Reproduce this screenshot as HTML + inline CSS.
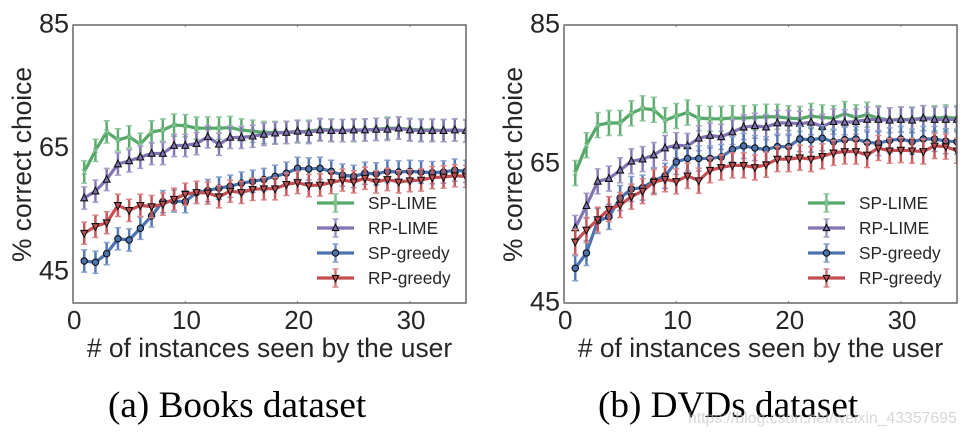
<!DOCTYPE html>
<html>
<head>
<meta charset="utf-8">
<title>Books and DVDs dataset charts</title>
<style>
html,body{margin:0;padding:0;background:#fff;width:968px;height:436px;overflow:hidden}
svg{display:block;filter:blur(0.35px)}
.sans{font-family:"Liberation Sans",sans-serif;fill:#262626}
.serif{font-family:"Liberation Serif",serif;fill:#000}
</style>
</head>
<body>
<svg id="figure" xmlns="http://www.w3.org/2000/svg" width="968" height="436" viewBox="0 0 968 436"></svg>
<script>
var xValues = [1,2,3,4,5,6,7,8,9,10,11,12,13,14,15,16,17,18,19,20,21,22,23,24,25,26,27,28,29,30,31,32,33,34,35];
var seriesNames = ["SP-LIME","RP-LIME","SP-greedy","RP-greedy"];

var booksSpLime = [61.2,64.7,67.7,66.4,66.9,65.7,67.7,68,68.8,68.7,68.3,68.3,68.3,68.4,68,67.8,67.6,67.6,67.6,67.7,67.8,68.1,68,67.9,67.9,68,68.1,68.3,68.3,68.1,68,68,67.9,68,67.8];
var booksRpLime = [57,58.1,60,62.5,63,63.6,64.2,64.2,65.5,65.5,65.8,66.9,65.7,66.8,66.8,67,67.3,67.5,67.6,67.8,67.6,68,67.9,67.9,68,68,68.1,68.1,68.3,68,67.9,67.9,67.9,68,67.9];
var booksSpGreedy = [46.8,46.6,48,50.4,50.2,52.1,54.1,56.4,56.5,56.4,57.9,58.2,58.6,58.9,59.4,59.7,60,60.5,61,61.8,61.7,61.8,61.3,60.7,60.5,61,60.9,61.3,61.2,61.3,61.2,61.1,61.2,61.5,61.3];
var booksRpGreedy = [51.3,52.4,53,55.8,55,55.8,55.6,56,56.8,57.6,57.9,57.8,57.2,58.1,57.9,58.4,58.5,58.5,59.2,59.5,59,59.1,59.5,59.9,59.6,60.2,59.6,60,59.6,59.8,59.9,60.3,60.4,60.6,60.5];

var dvdsSpLime = [63.7,67.7,70.6,70.9,70.9,72.3,73,72.8,71.3,71.9,72.4,71.6,71.5,71.5,71.6,71.6,71.7,71.8,71.8,71.6,71.5,71.9,71.7,71.6,72.2,71.7,72.1,71.6,71.3,71.4,71.4,71.6,71.6,71.7,71.6];
var dvdsRpLime = [55.8,59,62.5,62.9,64.1,65.4,65.7,66.3,67.3,67.7,67.6,68.7,69.1,68.9,69.6,70.3,70.5,70.3,70.9,70.9,70.8,71,70.4,71.1,71,71.1,71.4,71.4,71.3,71.4,71.3,71.6,71.4,71.4,71.4];
var dvdsSpGreedy = [50,52.2,56.8,57.4,60.1,61.4,61.6,62.6,63.3,65.3,65.8,65.8,65.8,66,67.1,67.6,67.3,67.1,67.5,67.5,68.6,68.5,68.7,68.2,68.5,68.6,68.1,68,68.4,68.6,68.2,68.6,68.6,68.3,68.2];
var dvdsRpGreedy = [53.8,55.5,57,58.5,59.1,60.3,61.1,62.4,62.8,62.5,63.3,62.6,64.1,64.5,64.8,64.8,64.5,64.9,65.7,65.7,65.9,65.7,66.1,66.6,66.8,66.8,66.3,67.3,66.9,67,66.9,66.8,67.6,67.5,66.9];

var booksErr = [1.8,1.8,1.8,1.8];
var dvdsErr = [1.8,1.8,1.8,1.8];
var xTicks = [0,10,20,30];
var booksYTicks = [45,65,85];
var dvdsYTicks = [45,65,85];

var NS = "http://www.w3.org/2000/svg";
var fig = document.getElementById("figure");
var seriesColors = ["#55A868","#8172B2","#4C72B0","#C44E52"];
var capColors = ["#8cc79c","#a79cca","#86a0cc","#d98689"];

function mk(tag, attrs, parent, txt){
  var e = document.createElementNS(NS, tag);
  for (var k in attrs) e.setAttribute(k, attrs[k]);
  if (txt !== undefined) e.textContent = txt;
  (parent || fig).appendChild(e);
  return e;
}

function drawMarker(g, kind, cx, cy, color, r){
  var m;
  if (kind === 0) {
    m = mk("path", {d:"M"+(cx-r)+" "+(cy-r)+"L"+(cx+r)+" "+(cy+r)+"M"+(cx+r)+" "+(cy-r)+"L"+(cx-r)+" "+(cy+r), stroke:"#8fcb9f", "stroke-width":1, fill:"none"}, g);
  } else if (kind === 1) {
    m = mk("path", {d:"M"+cx+" "+(cy-r-0.6)+"L"+(cx+r)+" "+(cy+r-0.6)+"L"+(cx-r)+" "+(cy+r-0.6)+"Z", fill:color, stroke:"#111", "stroke-width":1.1}, g);
  } else if (kind === 2) {
    m = mk("circle", {cx:cx, cy:cy, r:r, fill:color, stroke:"#111", "stroke-width":1.1}, g);
  } else {
    m = mk("path", {d:"M"+cx+" "+(cy+r+0.6)+"L"+(cx+r)+" "+(cy-r+0.6)+"L"+(cx-r)+" "+(cy-r+0.6)+"Z", fill:color, stroke:"#111", "stroke-width":1.1}, g);
  }
  
  
}

function drawChart(cfg){
  var p = mk("g", {});
  
  
  var L = cfg.left, R = cfg.right, T = 25, B = 303;
  function xAxis(v){ return L + (v - 0) / 35 * (R - L); }
  function yAxis(v){ return B - (v - cfg.yMin) / (85 - cfg.yMin) * (B - T); }

  var clip = mk("clipPath", {id:cfg.name + "-clip"}, p);
  mk("rect", {x:L, y:T, width:R-L, height:B-T}, clip);

  cfg.series.forEach(function(vals, s){
    var g = mk("g", {"clip-path":"url(#" + cfg.name + "-clip)"}, p);
    
    
    var err = cfg.err[s];
    vals.forEach(function(v, i){
      var x = xAxis(xValues[i]);
      var bar = mk("path", {d:"M"+x+" "+yAxis(v+err)+"L"+x+" "+yAxis(v-err), stroke:seriesColors[s], "stroke-width":2.5, fill:"none", opacity:0.95}, g);
      
      
      var caps = mk("path", {d:"M"+(x-3)+" "+yAxis(v+err)+"h6M"+(x-3)+" "+yAxis(v-err)+"h6", stroke:capColors[s], "stroke-width":1.5, fill:"none"}, g);
      
      
    });
    var d = vals.map(function(v, i){ return (i ? "L" : "M") + xAxis(xValues[i]).toFixed(2) + " " + yAxis(v).toFixed(2); }).join("");
    var line = mk("path", {d:d, stroke:seriesColors[s], "stroke-width":3.2, fill:"none", "stroke-linejoin":"round"}, g);
    
    
    vals.forEach(function(v, i){
      drawMarker(g, s, xAxis(xValues[i]), yAxis(v), seriesColors[s], s === 0 ? 2.5 : (s === 2 ? 3.2 : 3.4));
    });
  });

  var frame = mk("rect", {x:L, y:T, width:R-L, height:B-T, fill:"none", stroke:"#5c5c5c", "stroke-width":1.4}, p);
  
  

  xTicks.forEach(function(t){
    var x = xAxis(t);
    var lab = mk("text", {x:x + 1.2, y:329, "text-anchor":"middle", "font-size":26, "class":"sans"}, p, String(t));
    
    
    var tk = mk("path", {d:"M"+x+" "+T+"v2M"+x+" "+B+"v-2", stroke:"#777", "stroke-width":1}, p);
    
    
  });
  cfg.yTicks.forEach(function(t){
    var y = yAxis(t);
    var lab = mk("text", {x:L-4, y:y + 7.5, "text-anchor":"end", "font-size":27, "class":"sans"}, p, String(t));
    
    
  });

  var xt = mk("text", {x:(L+R)/2, y:357, "text-anchor":"middle", "font-size":26.4, "class":"sans"}, p, "# of instances seen by the user");
  
  
  var yt = mk("text", {x:0, y:0, transform:"translate("+cfg.yTitleX+",164.5) rotate(-90)", "text-anchor":"middle", "font-size":26.4, "class":"sans"}, p, "% correct choice");
  
  

  seriesNames.forEach(function(n, s){
    var y = 203 + s * 25;
    var g = mk("g", {}, p);
    
    
    var x0 = cfg.legendX, xm = x0 + 18.5;
    mk("path", {d:"M"+xm+" "+(y-9)+"V"+(y+9), stroke:seriesColors[s], "stroke-width":2.4, opacity:0.8}, g);
    mk("path", {d:"M"+(xm-3)+" "+(y-9)+"h6M"+(xm-3)+" "+(y+9)+"h6", stroke:capColors[s], "stroke-width":1.5}, g);
    mk("path", {d:"M"+x0+" "+y+"h37", stroke:seriesColors[s], "stroke-width":3.2}, g);
    drawMarker(g, s, xm, y, seriesColors[s], s === 0 ? 2.5 : 3.2);
    var tx = mk("text", {x:x0+51, y:y+6, "font-size":17.3, "class":"sans"}, g, n);
    
    
  });

  var cap = mk("text", {x:cfg.captionX, y:417, "font-size":37.2, "class":"serif"}, p, cfg.caption);
  
  
}

drawChart({
  name:"books-chart", left:73, right:466, yMin:40, yTicks:booksYTicks, err:booksErr,
  series:[booksSpLime, booksRpLime, booksSpGreedy, booksRpGreedy],
  legendX:317, yTitleX:31, caption:"(a) Books dataset", captionX:108
});
drawChart({
  name:"dvds-chart", left:564, right:957, yMin:45, yTicks:dvdsYTicks, err:dvdsErr,
  series:[dvdsSpLime, dvdsRpLime, dvdsSpGreedy, dvdsRpGreedy],
  legendX:808, yTitleX:522, caption:"(b) DVDs dataset", captionX:598
});

var wm = mk("text", {x:688, y:423, "font-size":15.8, "font-family":"Liberation Sans, sans-serif", fill:"#bdbdbd", "fill-opacity":0.6}, fig, "https://blog.csdn.net/weixin_43357695");


</script>
</body>
</html>
